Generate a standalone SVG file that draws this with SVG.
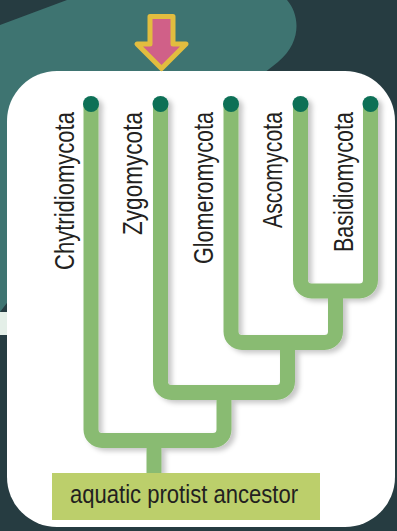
<svg xmlns="http://www.w3.org/2000/svg" width="397" height="531" viewBox="0 0 397 531">
  <defs>
    <style>
      .branch { fill: none; stroke: #89bb72; stroke-width: 15; stroke-linecap: butt; stroke-linejoin: round; }
      .tip { fill: #0b6f57; }
      .label { font-family: "Liberation Sans", Arial, sans-serif; font-size: 28.5px; fill: #231f20; }
      .anc { font-family: "Liberation Sans", Arial, sans-serif; font-size: 25px; fill: #231f20; }
    </style>
    <filter id="shadow" x="-20%" y="-20%" width="140%" height="140%">
      <feDropShadow dx="4" dy="3" stdDeviation="2.5" flood-color="#000" flood-opacity="0.22"/>
    </filter>
  </defs>

  <!-- background -->
  <rect x="0" y="0" width="397" height="531" fill="#263c41"/>
  <path d="M0,25 L67,0 L287,0 C300,15 302,42 278,62 C230,100 120,180 40,260 L0,312 Z" fill="#3e7471"/>
  <rect x="0" y="312" width="8" height="23" fill="#e4efe8"/>

  <!-- card -->
  <rect x="7" y="71" width="388" height="456" rx="50" ry="50" fill="#ffffff"/>

  <!-- arrow -->
  <g id="arrow">
    <path d="M150,16.5 L173,16.5 L173,44 L186,44 L161.5,68.5 L137,44 L150,44 Z" fill="#d06088" stroke="#e2bd3f" stroke-width="5" stroke-linejoin="round"/>
  </g>

  <!-- connectors -->
  <g id="connectors" filter="url(#shadow)">
    <path class="branch" d="M300.5,104 V280 A11,11 0 0 0 311.5,291 H359.5 A11,11 0 0 0 370.5,280 V104"/>
    <path class="branch" d="M231,104 V331.5 A11,11 0 0 0 242,342.5 H324.5 A11,11 0 0 0 335.5,331.5 V291"/>
    <path class="branch" d="M160.5,104 V381.5 A11,11 0 0 0 171.5,392.5 H276.5 A11,11 0 0 0 287.5,381.5 V342.5"/>
    <path class="branch" d="M91,104 V429.5 A11,11 0 0 0 102,440.5 H213 A11,11 0 0 0 224,429.5 V392.5"/>
    <path class="branch" d="M154,440.5 V474"/>
    <circle class="tip" cx="91" cy="104" r="8"/>
    <circle class="tip" cx="160.5" cy="104" r="8"/>
    <circle class="tip" cx="231" cy="104" r="8"/>
    <circle class="tip" cx="300.5" cy="104" r="8"/>
    <circle class="tip" cx="370.5" cy="104" r="8"/>
  </g>

  <!-- leaf nodes -->
  <g id="chytridiomycota">
    <text class="label" transform="translate(73.5,112) rotate(-90)" text-anchor="end" textLength="158" lengthAdjust="spacingAndGlyphs">Chytridiomycota</text>
  </g>
  <g id="zygomycota">
    <text class="label" transform="translate(141.5,112) rotate(-90)" text-anchor="end" textLength="123" lengthAdjust="spacingAndGlyphs">Zygomycota</text>
  </g>
  <g id="glomeromycota">
    <text class="label" transform="translate(213,112) rotate(-90)" text-anchor="end" textLength="152" lengthAdjust="spacingAndGlyphs">Glomeromycota</text>
  </g>
  <g id="ascomycota">
    <text class="label" transform="translate(282,112) rotate(-90)" text-anchor="end" textLength="116" lengthAdjust="spacingAndGlyphs">Ascomycota</text>
  </g>
  <g id="basidiomycota">
    <text class="label" transform="translate(353,112) rotate(-90)" text-anchor="end" textLength="140" lengthAdjust="spacingAndGlyphs">Basidiomycota</text>
  </g>

  <!-- root node -->
  <g id="ancestor">
    <rect x="52" y="473" width="268" height="47" fill="#bccf6b"/>
    <text class="anc" x="184" y="503" text-anchor="middle" textLength="228" lengthAdjust="spacingAndGlyphs">aquatic protist ancestor</text>
  </g>
</svg>
